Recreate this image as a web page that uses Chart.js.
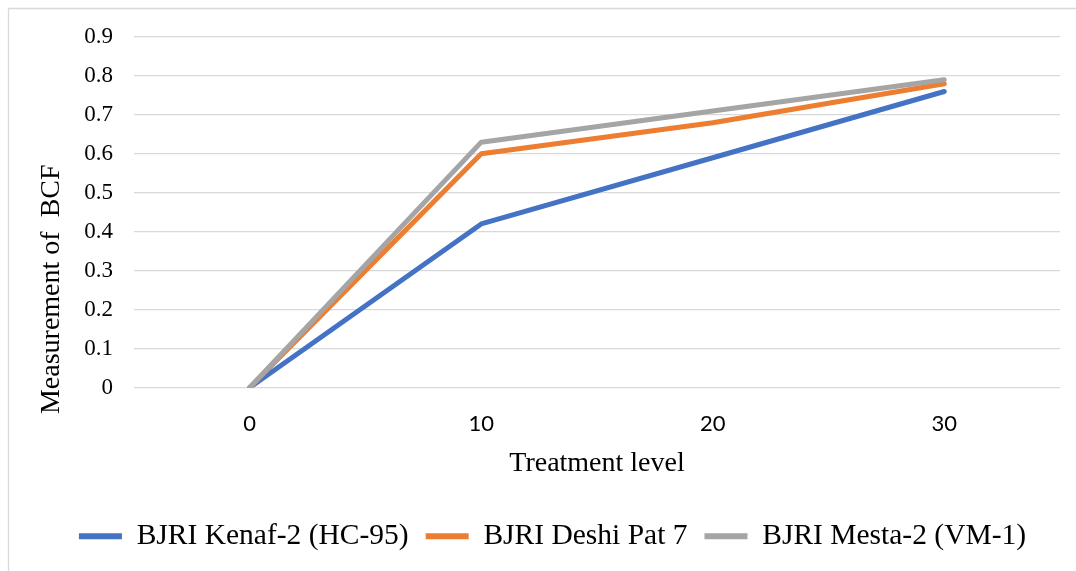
<!DOCTYPE html>
<html><head><meta charset="utf-8">
<script src="https://cdn.jsdelivr.net/npm/chart.js@4.4.0/dist/chart.umd.min.js"></script>
<style>html,body{margin:0;padding:0;background:#fff;overflow:hidden}#wrap{width:1076px;height:571px;position:relative}</style>
</head><body><div id="wrap"><canvas id="c"></canvas></div>
<script>
const categories = ['0', '10', '20', '30'];
const kenaf = [0, 0.42, 0.59, 0.76];
const deshi = [0, 0.60, 0.68, 0.78];
const mesta = [0, 0.63, 0.71, 0.79];
const seriesNames = ['BJRI Kenaf-2 (HC-95)', 'BJRI Deshi Pat 7', 'BJRI Mesta-2 (VM-1)'];
const seriesColors = ['#4472C4', '#ED7D31', '#A5A5A5'];
const yTicks = [0, 0.1, 0.2, 0.3, 0.4, 0.5, 0.6, 0.7, 0.8, 0.9];
const xTitle = 'Treatment level';
const yTitle = 'Measurement of  BCF';

const serif = '"Liberation Serif", "Times New Roman", serif';

const framePlugin = {
  id: 'frame',
  beforeDraw(chart) {
    const ctx = chart.ctx;
    ctx.save();
    ctx.fillStyle = '#fff';
    ctx.fillRect(0, 0, chart.width, chart.height);
    ctx.strokeStyle = '#d9d9d9';
    ctx.lineWidth = 1.3;
    ctx.beginPath();
    ctx.moveTo(8.5, chart.height + 5);
    ctx.lineTo(8.5, 8.5);
    ctx.lineTo(chart.width + 5, 8.5);
    ctx.stroke();
    ctx.restore();
  }
};

// shift the vertical title downward (Excel centres it over plot + axis labels)
const yTitleText = yTitle + ' '.repeat(22);

const allSeries = [kenaf, deshi, mesta];
new Chart(document.getElementById('c'), {
  type: 'line',
  data: {
    labels: categories,
    datasets: allSeries.map((d, i) => ({
      label: seriesNames[i],
      data: d,
      borderColor: seriesColors[i],
      backgroundColor: seriesColors[i],
      borderWidth: 5,
      borderCapStyle: 'round',
      borderJoinStyle: 'round',
      pointRadius: 0,
      pointHoverRadius: 0,
      tension: 0,
      fill: false,
      order: 3 - i
    }))
  },
  options: {
    responsive: true,
    maintainAspectRatio: false,
    animation: false,
    layout: { padding: { left: 45, right: 16, top: 37, bottom: 10 } },
    plugins: {
      tooltip: { enabled: false },
      legend: {
        position: 'bottom',
        labels: {
          font: { family: serif, size: 29.5 },
          color: '#000',
          boxWidth: 43,
          boxHeight: 6,
          padding: 17,
          useBorderRadius: true,
          borderRadius: 3,
          generateLabels(chart) {
            return chart.data.datasets.map((ds, i) => ({
              text: ds.label,
              fillStyle: ds.borderColor,
              strokeStyle: ds.borderColor,
              lineWidth: 0,
              hidden: false,
              datasetIndex: i,
              fontColor: '#000'
            }));
          }
        }
      }
    },
    scales: {
      x: {
        type: 'category',
        offset: true,
        grid: { display: false, drawTicks: false },
        border: { display: false },
        ticks: { font: { family: 'Lato, "Liberation Sans", sans-serif', size: 22 }, color: '#000', padding: 23, maxRotation: 0 },
        title: { display: true, text: xTitle, font: { family: serif, size: 28 }, color: '#000', padding: { top: 0, bottom: 24 } },
        afterFit(scale) { scale.height = 117; }
      },
      y: {
        min: 0,
        max: 0.9,
        grid: { color: '#d9d9d9', lineWidth: 1.3, drawTicks: false },
        border: { display: false },
        afterBuildTicks(scale) { scale.ticks = yTicks.map(v => ({ value: v })); },
        ticks: { font: { family: serif, size: 23 }, color: '#000', padding: 21, callback: v => String(v) },
        title: { display: true, text: yTitleText, font: { family: serif, size: 28 }, color: '#000', padding: { top: -10, bottom: 0 } },
        afterFit(scale) { scale.width = 89; }
      }
    }
  },
  plugins: [framePlugin]
});
</script></body></html>
